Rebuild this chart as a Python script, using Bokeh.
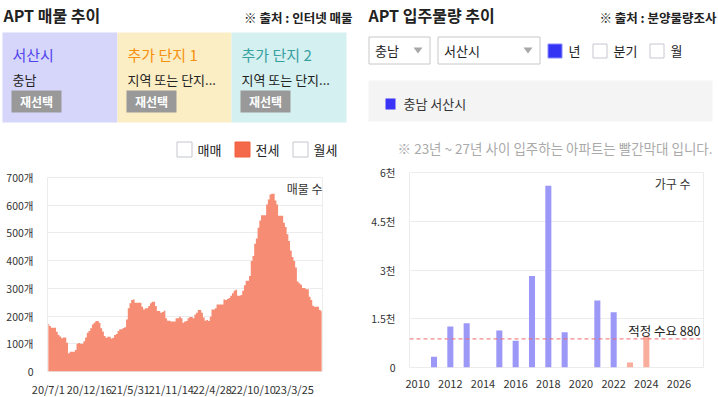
from bokeh.plotting import figure
from bokeh.models import Range1d, FixedTicker, Span
from bokeh.embed import file_html
from bokeh.resources import INLINE
from bokeh.core.properties import value

FONT = "Noto Sans CJK KR"

# ---------------- data ----------------
# 매물 수 (전세), weekly series starting 20/7/1
listing_counts = [171, 164, 158, 158, 158, 143, 132, 126, 120, 123,
                  123, 104, 66, 71, 71, 71, 78, 100, 103, 100,
                  100, 109, 123, 140, 146, 156, 170, 176, 182, 182,
                  176, 156, 144, 128, 122, 125, 125, 119, 122, 132,
                  135, 146, 152, 152, 157, 160, 188, 228, 246, 258,
                  260, 248, 248, 248, 248, 234, 224, 228, 228, 236,
                  246, 252, 252, 236, 218, 218, 212, 215, 219, 192,
                  183, 183, 180, 180, 180, 192, 192, 198, 192, 176,
                  180, 182, 192, 197, 197, 192, 206, 212, 222, 222,
                  212, 195, 183, 186, 182, 198, 224, 224, 228, 242,
                  242, 242, 242, 260, 258, 262, 265, 273, 282, 291,
                  295, 273, 273, 276, 291, 311, 327, 327, 345, 399,
                  417, 461, 480, 519, 545, 564, 564, 564, 603, 621,
                  639, 641, 641, 617, 603, 562, 562, 562, 537, 521,
                  495, 471, 437, 413, 399, 375, 325, 318, 313, 301,
                  301, 297, 297, 270, 258, 237, 234, 234, 234, 222,
                  217]
date_labels = ["20/7/1", "20/12/16", "21/5/31", "21/11/14", "22/4/28", "22/10/10", "23/3/25"]
date_label_step = 24
count_ticks = [0, 100, 200, 300, 400, 500, 600, 700]

# 입주물량 (가구 수) by year
years = [2010, 2011, 2012, 2013, 2014, 2015, 2016, 2017, 2018,
         2019, 2020, 2021, 2022, 2023, 2024, 2025, 2026, 2027]
supply = [0, 330, 1260, 1360, 0, 1135, 826, 2815, 5590,
          1083, 0, 2062, 1701, 155, 980, 0, 0, 0]
highlight_from = 2023
proper_demand = 880
supply_ticks = [0, 1500, 3000, 4500, 6000]
supply_tick_labels = ["0", "1.5천", "3천", "4.5천", "6천"]

# ---------------- colors ----------------
AREA = "#f68c74"
BAR_BLUE = "#9c98f7"
BAR_RED = "#f9ae9d"
GRID = "#ececec"
TXT = "#222222"


def place(left, top):
    return {"position": "absolute", "left": f"{left}px", "top": f"{top}px"}


def canvas(w, h, x0, y0):
    p = figure(width=w, height=h, x_range=Range1d(x0, x0 + w), y_range=Range1d(y0 + h, y0),
               x_axis_type=None, y_axis_type=None, toolbar_location=None,
               output_backend="svg", min_border=0, styles=place(x0, y0))
    p.outline_line_color = None
    return p


def txt(p, x, y, s, size, color=TXT, bold=False, align="left"):
    p.text(x=[x], y=[y], text=[s], text_font=value(FONT), text_font_size=f"{size}px",
           text_color=color, text_font_style="bold" if bold else "normal",
           text_align=align, text_baseline="middle")


def box(p, x0, y0, x1, y1, fill, line=None):
    p.quad(left=[x0], right=[x1], top=[y0], bottom=[y1], fill_color=fill,
           line_color=line, line_width=1)


def style_axes(p):
    for ax in (p.xaxis, p.yaxis):
        ax.axis_line_color = None
        ax.major_tick_line_color = None
        ax.major_tick_out = 0
        ax.major_tick_in = 0
        ax.minor_tick_line_color = None
        ax.minor_tick_out = 0
        ax.major_label_text_font = FONT
        ax.major_label_text_color = "#333333"
        ax.major_label_text_line_height = 1.0
    p.xaxis.major_label_text_font_size = "11px"
    p.yaxis.major_label_text_font_size = "10.5px"
    p.outline_line_color = GRID
    p.xgrid.visible = False
    p.ygrid.grid_line_color = GRID


# ---------------- left header (page px coords) ----------------
hL = canvas(360, 166, 0, 0)
txt(hL, 3, 14, "APT 매물 추이", 16, bold=True)
txt(hL, 352, 17, "※ 출처 : 인터넷 매물", 12.5, bold=True, align="right")
panels = [(2, 117, "#d6d6fb", "서산시", "#5044ee", "충남"),
          (117, 231, "#fbeec5", "추가 단지 1", "#f7900f", "지역 또는 단지..."),
          (231, 346, "#d4f0f0", "추가 단지 2", "#36a0a0", "지역 또는 단지...")]
for x0, x1, bg, name, ncol, sub in panels:
    box(hL, x0, 32, x1, 122, bg)
    tx = x0 + 10
    txt(hL, tx, 54, name, 15, color=ncol)
    txt(hL, tx, 79, sub, 13)
    bx = x0 + 9
    box(hL, bx, 90, bx + 50, 112, "#999999")
    txt(hL, bx + 25, 101, "재선택", 12, color="white", bold=True, align="center")

legend_items = [(176.5, "매매", "white", "#c3c6ce"),
                (234.5, "전세", "#f4694a", "#f0603f"),
                (292.5, "월세", "white", "#c3c6ce")]
for x0, lab, fill, line in legend_items:
    box(hL, x0, 141.5, x0 + 15, 156.5, fill, line)
    txt(hL, x0 + 20.5, 149, lab, 13)

# ---------------- left chart ----------------
idx = list(range(len(listing_counts)))
pL = figure(frame_width=275, frame_height=194, x_range=Range1d(-0.5, len(idx) - 0.5),
            y_range=Range1d(0, 700), toolbar_location=None, output_backend="svg",
            styles=place(0, 166), min_border_left=47, min_border_right=38,
            min_border_top=11, min_border_bottom=0)
pL.varea_step(x=idx, y1=[0] * len(idx), y2=listing_counts, step_mode="center",
              fill_color=AREA)
style_axes(pL)
pL.ygrid.ticker = FixedTicker(ticks=count_ticks)
pL.yaxis.ticker = FixedTicker(ticks=count_ticks)
pL.yaxis.major_label_overrides = {t: ("0" if t == 0 else f"{t}개") for t in count_ticks}
pL.xaxis.ticker = FixedTicker(ticks=[i * date_label_step for i in range(len(date_labels))])
pL.xaxis.major_label_overrides = {i * date_label_step: d for i, d in enumerate(date_labels)}
pL.yaxis.major_label_standoff = 14
pL.xaxis.major_label_standoff = 9
pL.text(x=[len(idx) - 0.5], y=[659], text=["매물 수"], text_font=value(FONT),
        text_font_size="12px", text_color="#333333", text_align="right", text_baseline="middle")

# ---------------- right header ----------------
hR = canvas(358, 160, 360, 0)
txt(hR, 368, 14, "APT 입주물량 추이", 16, bold=True)
txt(hR, 716, 17, "※ 출처 : 분양물량조사", 12.5, bold=True, align="right")
for x0, x1, lab in [(368.5, 429.5, "충남"), (437.5, 539.5, "서산시")]:
    box(hR, x0, 36.5, x1, 63.5, "white", "#c8c8c8")
    txt(hR, x0 + 6, 50, lab, 13)
    hR.patch(x=[x1 - 16.5, x1 - 7.5, x1 - 12], y=[47, 47, 53], fill_color="#a8a8a8", line_color=None)
for x0, lab, fill, line in [(547.5, "년", "#3434f4", "#8a8aff"),
                            (592.5, "분기", "white", "#c8c8d0"),
                            (649.5, "월", "white", "#c8c8d0")]:
    box(hR, x0, 43.5, x0 + 14, 57.5, fill, line)
    txt(hR, x0 + 20.5, 50, lab, 13)
box(hR, 368, 80, 712, 121, "#f4f4f4")
box(hR, 385, 98, 395, 109, "#3b33f5")
txt(hR, 403, 103, "충남 서산시", 13, color="#333333")
txt(hR, 712, 147, "※ 23년 ~ 27년 사이 입주하는 아파트는 빨간막대 입니다.", 13.5,
    color="#aaaaaa", align="right")

# ---------------- right chart ----------------
pR = figure(frame_width=294, frame_height=195, x_range=Range1d(2009.5, 2027.5),
            y_range=Range1d(0, 6000), toolbar_location=None, output_backend="svg",
            styles=place(360, 160), min_border_left=49, min_border_right=15,
            min_border_top=12, min_border_bottom=0)
bar_colors = [BAR_RED if y >= highlight_from else BAR_BLUE for y in years]
pR.vbar(x=years, top=supply, width=0.37, fill_color=bar_colors, line_color=None)
pR.add_layout(Span(location=proper_demand, dimension="width", line_color="#f26a6a",
                   line_width=1, line_dash="4 3"))
style_axes(pR)
pR.ygrid.ticker = FixedTicker(ticks=supply_ticks)
pR.yaxis.ticker = FixedTicker(ticks=supply_ticks)
pR.yaxis.major_label_overrides = dict(zip(supply_ticks, supply_tick_labels))
pR.xaxis.ticker = FixedTicker(ticks=years[::2])
pR.xaxis.major_label_overrides = {y: str(y) for y in years[::2]}
pR.yaxis.major_label_standoff = 14
pR.xaxis.major_label_standoff = 12
pR.text(x=[2026.7], y=[5650], text=["가구 수"], text_font=value(FONT),
        text_font_size="12px", text_color="#333333", text_align="right", text_baseline="middle")
pR.text(x=[2027.32], y=[1135], text=[f"적정 수요 {proper_demand}"], text_font=value(FONT),
        text_font_size="12.5px", text_color=TXT, text_align="right", text_baseline="middle")

open("out.html", "w").write(file_html([hL, pL, hR, pR], INLINE))
